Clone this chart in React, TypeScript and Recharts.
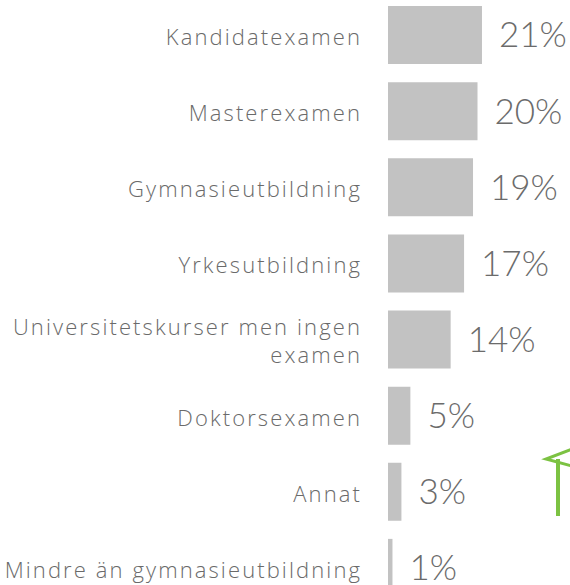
import React from 'react';
import { BarChart, Bar, XAxis, YAxis, LabelList } from 'recharts';

const categories = [
  'Kandidatexamen',
  'Masterexamen',
  'Gymnasieutbildning',
  'Yrkesutbildning',
  'Universitetskurser men ingen examen',
  'Doktorsexamen',
  'Annat',
  'Mindre än gymnasieutbildning',
];
const shares = [21, 20, 19, 17, 14, 5, 3, 1];

const data = categories.map((name, i) => ({ name, value: shares[i] }));

const wrap = (text: string, max = 28) => {
  const lines: string[] = [];
  let cur = '';
  text.split(' ').forEach((w) => {
    const next = cur ? cur + ' ' + w : w;
    if (next.length > max && cur) {
      lines.push(cur);
      cur = w;
    } else cur = next;
  });
  if (cur) lines.push(cur);
  return lines;
};

const CategoryTick = (props: any) => {
  const { x, y, payload } = props;
  const lines = wrap(payload.value);
  const lh = 28;
  const start = y - ((lines.length - 1) * lh) / 2 + 2;
  return (
    <text
      x={x}
      textAnchor="end"
      fill="#6a6a6a"
      fontFamily="'Open Sans', sans-serif"
      fontWeight={300}
      fontSize={22}
      letterSpacing={2.1}
    >
      {lines.map((l, i) => (
        <tspan key={i} x={x} y={start + i * lh} dy="0.36em">
          {l}
        </tspan>
      ))}
    </text>
  );
};

export default function App() {
  return (
    <div
      style={{
        position: 'fixed',
        left: 0,
        top: 0,
        width: 570,
        height: 585,
        overflow: 'hidden',
        background: '#fff',
      }}
    >
      <div style={{ position: 'absolute', left: 0, top: -3 }}>
        <BarChart
          width={570}
          height={609}
          data={data}
          layout="vertical"
          margin={{ top: 0, right: 3, bottom: 0, left: 0 }}
        >
          <XAxis type="number" domain={[0, 40]} hide />
          <YAxis
            type="category"
            dataKey="name"
            width={388}
            axisLine={false}
            tickLine={false}
            tickSize={0}
            tickMargin={26}
            interval={0}
            tick={<CategoryTick />}
          />
          <Bar dataKey="value" fill="#c2c2c2" barSize={58} isAnimationActive={false}>
            <LabelList
              dataKey="value"
              position="right"
              offset={17}
              formatter={(v: any) => `${v}%`}
              fill="#6b6b6b"
              fontFamily="Lato, sans-serif"
              fontWeight={300}
              fontSize={35}
            />
          </Bar>
        </BarChart>
      </div>
      <svg
        width={570}
        height={585}
        style={{ position: 'absolute', left: 0, top: 0, pointerEvents: 'none' }}
      >
        <line x1={558} y1={459} x2={558} y2={516} stroke="#7cc242" strokeWidth={4} />
        <polyline
          points="572,449 546,459 572,466"
          fill="none"
          stroke="#7cc242"
          strokeWidth={3}
        />
      </svg>
    </div>
  );
}
